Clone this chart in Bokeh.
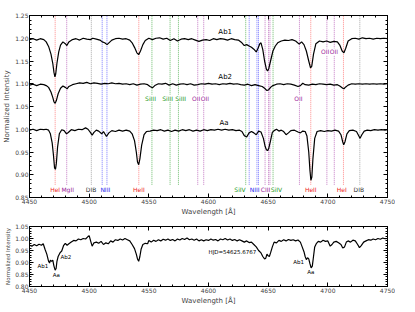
from bokeh.plotting import figure
from bokeh.layouts import column
from bokeh.models import LinearAxis, SingleIntervalTicker, NumeralTickFormatter, Label, Range1d
from bokeh.embed import file_html
from bokeh.resources import INLINE

# ---------------- data ----------------
ab1_wl = [4450, 4453, 4456, 4459, 4462, 4464, 4466, 4468, 4469.5, 4470.5, 4471.3, 4472, 4473, 4474.5, 4476, 4478, 4480, 4481.3, 4483, 4486, 4489, 4492, 4495, 4498, 4501, 4503, 4506, 4509, 4511, 4513, 4515, 4517, 4519, 4522, 4525, 4528, 4531, 4534, 4536, 4538, 4540, 4541.5, 4543, 4545, 4547, 4550, 4553, 4556, 4559, 4562, 4565, 4568, 4571, 4574, 4577, 4580, 4583, 4586, 4589, 4592, 4595, 4598, 4601, 4604, 4607, 4610, 4613, 4616, 4619, 4622, 4625, 4628, 4630, 4632, 4634, 4636, 4638, 4640, 4641.5, 4643, 4644, 4645.5, 4647, 4648.5, 4649.5, 4650.5, 4652, 4654, 4656, 4658, 4661, 4664, 4667, 4670, 4673, 4676, 4678, 4680, 4682, 4684, 4685.5, 4686.5, 4688, 4690, 4693, 4696, 4699, 4702, 4705, 4708, 4710, 4712, 4713.5, 4715, 4717, 4720, 4723, 4726, 4729, 4732, 4735, 4738, 4741, 4744, 4747, 4750]
ab1_fx = [1.197, 1.199, 1.196, 1.199, 1.197, 1.192, 1.182, 1.165, 1.145, 1.125, 1.115, 1.122, 1.145, 1.170, 1.185, 1.192, 1.188, 1.184, 1.192, 1.197, 1.199, 1.196, 1.200, 1.198, 1.197, 1.200, 1.198, 1.196, 1.192, 1.190, 1.186, 1.191, 1.196, 1.199, 1.200, 1.198, 1.199, 1.196, 1.190, 1.180, 1.168, 1.164, 1.172, 1.186, 1.195, 1.200, 1.197, 1.200, 1.201, 1.198, 1.200, 1.195, 1.199, 1.194, 1.198, 1.199, 1.197, 1.199, 1.196, 1.193, 1.196, 1.197, 1.195, 1.199, 1.197, 1.199, 1.198, 1.196, 1.199, 1.197, 1.196, 1.190, 1.184, 1.186, 1.183, 1.180, 1.176, 1.170, 1.178, 1.188, 1.190, 1.175, 1.150, 1.132, 1.128, 1.133, 1.150, 1.172, 1.183, 1.190, 1.194, 1.196, 1.195, 1.197, 1.194, 1.187, 1.192, 1.186, 1.172, 1.150, 1.135, 1.138, 1.165, 1.188, 1.194, 1.192, 1.194, 1.191, 1.193, 1.192, 1.185, 1.172, 1.168, 1.178, 1.194, 1.199, 1.200, 1.198, 1.201, 1.199, 1.200, 1.198, 1.200, 1.199, 1.200, 1.199]

ab2_wl = [4450, 4453, 4456, 4459, 4462, 4464, 4466, 4468, 4469.5, 4470.5, 4471.5, 4472.5, 4474, 4476, 4478, 4480, 4481.5, 4483, 4486, 4489, 4492, 4495, 4498, 4501, 4504, 4507, 4510, 4513, 4516, 4519, 4522, 4525, 4528, 4531, 4534, 4537, 4540, 4543, 4546, 4549, 4551, 4553, 4555, 4558, 4561, 4564, 4567, 4570, 4573, 4576, 4579, 4582, 4585, 4588, 4591, 4594, 4597, 4600, 4603, 4606, 4609, 4612, 4615, 4618, 4621, 4624, 4627, 4630, 4633, 4636, 4639, 4642, 4645, 4647, 4649, 4650.5, 4652, 4654, 4657, 4660, 4663, 4666, 4669, 4672, 4675, 4677, 4679, 4681, 4684, 4687, 4690, 4693, 4696, 4699, 4702, 4705, 4708, 4710, 4712, 4713.5, 4715, 4717, 4720, 4723, 4726, 4729, 4732, 4735, 4738, 4741, 4744, 4747, 4750]
ab2_fx = [1.097, 1.099, 1.096, 1.099, 1.098, 1.096, 1.092, 1.082, 1.070, 1.060, 1.057, 1.063, 1.078, 1.090, 1.095, 1.092, 1.089, 1.094, 1.098, 1.100, 1.102, 1.101, 1.103, 1.100, 1.102, 1.101, 1.099, 1.101, 1.100, 1.102, 1.100, 1.101, 1.099, 1.100, 1.098, 1.100, 1.097, 1.099, 1.100, 1.098, 1.094, 1.091, 1.096, 1.100, 1.099, 1.101, 1.097, 1.100, 1.097, 1.099, 1.100, 1.098, 1.100, 1.097, 1.098, 1.100, 1.099, 1.101, 1.099, 1.100, 1.098, 1.100, 1.099, 1.101, 1.099, 1.100, 1.098, 1.097, 1.099, 1.096, 1.098, 1.096, 1.094, 1.090, 1.085, 1.087, 1.092, 1.096, 1.099, 1.100, 1.098, 1.100, 1.099, 1.097, 1.094, 1.096, 1.101, 1.098, 1.097, 1.099, 1.098, 1.100, 1.099, 1.098, 1.099, 1.097, 1.098, 1.095, 1.091, 1.089, 1.093, 1.097, 1.100, 1.099, 1.100, 1.099, 1.100, 1.099, 1.100, 1.099, 1.100, 1.099, 1.100]

aa_wl = [4450, 4453, 4456, 4459, 4462, 4464, 4466, 4467.5, 4469, 4470, 4471, 4471.8, 4472.5, 4473.5, 4475, 4477, 4479, 4481, 4482.5, 4485, 4488, 4491, 4494, 4497, 4499, 4501, 4502.5, 4504, 4506, 4508, 4510.5, 4512, 4514.5, 4516.5, 4519, 4522, 4525, 4528, 4531, 4534, 4536, 4538, 4539.5, 4540.5, 4541.5, 4542.5, 4544, 4546, 4548, 4551, 4554, 4557, 4560, 4563, 4566, 4569, 4572, 4575, 4578, 4581, 4584, 4587, 4590, 4593, 4596, 4599, 4602, 4605, 4608, 4611, 4614, 4617, 4620, 4623, 4626, 4628, 4630, 4632, 4634, 4636, 4638, 4640, 4642, 4644, 4646, 4647.5, 4648.5, 4649.5, 4650.5, 4652, 4653.5, 4655, 4657, 4659, 4661, 4663, 4665, 4667, 4669, 4672, 4675, 4677, 4679, 4681, 4682.5, 4684, 4685, 4685.8, 4686.6, 4687.5, 4689, 4691, 4694, 4697, 4700, 4703, 4706, 4709, 4711, 4712.5, 4713.3, 4714.3, 4716, 4718, 4721, 4724, 4726, 4727, 4728.5, 4730.5, 4733, 4736, 4739, 4742, 4745, 4748, 4750]
aa_fx = [0.998, 1.000, 0.997, 1.000, 0.999, 1.000, 0.998, 0.990, 0.970, 0.945, 0.915, 0.912, 0.925, 0.960, 0.990, 0.999, 0.997, 0.990, 0.993, 0.999, 0.997, 1.000, 0.999, 1.003, 1.000, 0.993, 0.987, 0.993, 0.998, 0.996, 0.990, 0.995, 0.984, 0.992, 0.997, 0.995, 0.998, 0.996, 0.998, 0.996, 0.990, 0.975, 0.950, 0.928, 0.922, 0.935, 0.965, 0.988, 0.995, 0.996, 0.998, 0.997, 0.999, 0.996, 0.998, 0.995, 0.998, 0.996, 0.999, 0.997, 0.999, 0.996, 0.998, 0.996, 0.999, 0.997, 0.999, 0.998, 1.000, 0.998, 1.000, 0.998, 0.999, 0.997, 0.998, 0.995, 0.986, 0.983, 0.992, 0.995, 0.992, 0.988, 0.996, 0.994, 0.980, 0.962, 0.955, 0.953, 0.958, 0.975, 0.993, 0.997, 1.000, 0.996, 0.998, 0.995, 0.988, 0.992, 0.997, 0.998, 0.994, 0.992, 0.996, 0.995, 0.985, 0.950, 0.910, 0.888, 0.895, 0.935, 0.980, 0.995, 0.997, 0.995, 0.997, 0.996, 0.998, 0.996, 0.988, 0.972, 0.966, 0.972, 0.990, 0.997, 0.998, 0.995, 0.985, 0.980, 0.988, 0.996, 0.998, 0.997, 0.999, 0.998, 0.999, 0.998, 0.999]

obs_wl = [4450, 4452, 4454, 4456, 4458, 4460, 4461.5, 4463, 4464.5, 4466, 4466.8, 4467.5, 4468.5, 4469.5, 4470.5, 4471.5, 4472.3, 4473, 4474, 4475.5, 4477, 4478.5, 4480, 4481.5, 4483, 4485, 4487, 4489, 4491, 4493, 4495, 4497, 4499, 4500, 4501.5, 4502.5, 4504, 4506, 4508, 4510, 4512, 4514, 4516, 4518, 4520, 4522, 4524, 4526, 4528, 4530, 4532, 4534, 4536, 4538, 4539.5, 4540.5, 4541.5, 4542.5, 4543.5, 4545, 4547, 4549, 4550, 4552, 4554, 4556, 4558, 4560, 4562, 4564, 4566, 4568, 4570, 4572, 4574, 4576, 4578, 4580, 4582, 4584, 4586, 4588, 4590, 4592, 4594, 4596, 4598, 4600, 4602, 4604, 4606, 4608, 4610, 4612, 4614, 4616, 4618, 4620, 4622, 4624, 4626, 4628, 4630, 4632, 4634, 4636, 4638, 4640, 4642, 4644, 4645.5, 4647, 4648, 4649, 4650, 4651, 4652, 4653.5, 4655, 4657, 4659, 4661, 4663, 4665, 4667, 4669, 4671, 4673, 4675, 4677, 4678.5, 4680, 4681, 4682, 4683, 4684, 4685, 4686, 4687, 4688, 4689, 4690.5, 4692, 4694, 4696, 4698, 4700, 4702, 4703.5, 4705, 4707, 4709, 4711, 4712.5, 4714, 4715.5, 4717, 4719, 4721, 4723, 4725, 4726.5, 4728, 4730, 4732, 4734, 4736, 4738, 4740, 4742, 4744, 4746, 4748, 4750]
obs_fx = [0.972, 0.968, 0.975, 0.970, 0.976, 0.972, 0.978, 0.955, 0.935, 0.905, 0.898, 0.910, 0.905, 0.910, 0.885, 0.868, 0.875, 0.905, 0.925, 0.940, 0.948, 0.970, 0.980, 0.972, 0.978, 0.985, 0.992, 0.990, 0.998, 0.995, 1.000, 0.998, 1.008, 1.012, 0.985, 0.968, 0.982, 0.985, 0.980, 0.988, 0.975, 0.982, 0.978, 0.990, 0.985, 0.995, 0.992, 0.998, 0.994, 1.000, 0.995, 0.990, 0.975, 0.958, 0.935, 0.915, 0.905, 0.925, 0.955, 0.975, 0.980, 0.978, 0.992, 0.985, 0.993, 0.988, 0.995, 0.990, 0.997, 0.993, 0.998, 0.992, 0.996, 0.990, 0.998, 0.994, 1.000, 0.996, 1.002, 0.995, 0.998, 0.993, 0.998, 0.990, 0.995, 0.990, 0.995, 0.992, 0.998, 0.993, 0.996, 0.990, 0.998, 0.995, 1.000, 0.994, 0.998, 0.992, 0.996, 0.990, 0.995, 0.990, 0.985, 0.990, 0.983, 0.985, 0.975, 0.965, 0.950, 0.940, 0.925, 0.915, 0.918, 0.935, 0.928, 0.925, 0.940, 0.965, 0.985, 0.982, 0.992, 0.988, 0.995, 0.990, 0.996, 0.992, 0.995, 0.990, 0.994, 0.985, 0.965, 0.945, 0.925, 0.912, 0.920, 0.915, 0.895, 0.878, 0.885, 0.925, 0.965, 0.980, 0.988, 0.985, 0.993, 0.988, 0.990, 0.968, 0.975, 0.985, 0.988, 0.982, 0.975, 0.960, 0.965, 0.985, 0.990, 0.985, 0.993, 0.990, 0.975, 0.962, 0.970, 0.985, 0.990, 0.995, 0.993, 0.998, 0.995, 1.000, 0.997, 1.002, 0.999, 1.000]

# spectral line identifications
line_wl = [4471.5, 4481.2, 4501.8, 4510.9, 4514.9, 4541.6, 4552.6, 4567.8, 4574.8, 4591.0, 4596.0,
           4631.2, 4634.1, 4640.6, 4641.9, 4647.4, 4650.3, 4651.5, 4654.1, 4676.2, 4685.7,
           4699.2, 4705.4, 4713.1, 4726.8]
line_kind = ["He", "Mg", "DIB", "N", "N", "He", "Si", "Si", "Si", "O", "O",
             "Si", "N", "N", "N", "O", "O", "O", "Si", "O", "He",
             "O", "O", "He", "DIB"]

lab_text = ["HeI", "MgII", "DIB", "NIII", "HeII", "SiIV", "NIII", "CIII", "SiIV", "HeII", "HeI", "DIB",
            "SiIII", "SiIII", "SiIII", "OII", "OII", "OII", "OII", "OII"]
lab_wl = [4471.5, 4482.0, 4501.6, 4513.5, 4541.6, 4626.4, 4638.7, 4647.8, 4656.9, 4685.7, 4711.7, 4726.0,
          4551.4, 4565.8, 4576.6, 4589.7, 4597.0, 4675.4, 4697.7, 4705.0]
lab_y = [0.867, 0.867, 0.867, 0.867, 0.867, 0.867, 0.867, 0.867, 0.867, 0.867, 0.867, 0.867,
         1.068, 1.068, 1.068, 1.068, 1.068, 1.068, 1.170, 1.170]
lab_kind = ["He", "Mg", "DIB", "N", "He", "Si", "N", "O", "Si", "He", "He", "DIB",
            "Si", "Si", "Si", "O", "O", "O", "O", "O"]

comp_text = ["Ab1", "Ab2", "Aa"]
comp_wl = [4614, 4614, 4613]
comp_y = [1.213, 1.114, 1.014]

obs_lab_text = ["Ab1", "Aa", "Ab2", "HJD=54625.6767", "Ab1", "Aa"]
obs_lab_wl = [4465.7, 4472.5, 4476.0, 4600.0, 4680.0, 4685.7]
obs_lab_y = [0.885, 0.848, 0.923, 0.944, 0.904, 0.861]
obs_lab_align = ["right", "center", "left", "left", "right", "center"]

# ---------------- styling ----------------
FONT = "DejaVu Sans"
line_col = {"He": "#ff8a8a", "Mg": "#c47ac4", "DIB": "#a8a8a8", "N": "#7a7aff", "Si": "#6cbc6c", "O": "#c47ac4"}
text_col = {"He": "#ee2222", "Mg": "#992299", "DIB": "#333333", "N": "#2222ee", "Si": "#229922", "O": "#992299"}


def add_frame_axes(p, yint):
    for loc in ("above", "right"):
        if loc == "above":
            ax = LinearAxis(ticker=SingleIntervalTicker(interval=50, num_minor_ticks=5))
        else:
            ax = LinearAxis(ticker=SingleIntervalTicker(interval=yint, num_minor_ticks=5))
        ax.major_label_text_color = None
        ax.major_label_text_font_size = "1px"
        ax.major_label_standoff = 0
        ax.major_tick_in = 4
        ax.major_tick_out = 0
        ax.minor_tick_in = 2
        ax.minor_tick_out = 0
        ax.axis_line_color = "black"
        p.add_layout(ax, loc)


def style(p, yint, ylab_size):
    p.xgrid.visible = False
    p.ygrid.visible = False
    p.outline_line_color = "black"
    p.xaxis.ticker = SingleIntervalTicker(interval=50, num_minor_ticks=5)
    p.yaxis.ticker = SingleIntervalTicker(interval=yint, num_minor_ticks=5)
    p.yaxis.formatter = NumeralTickFormatter(format="0.00")
    for ax in (p.xaxis[0], p.yaxis[0]):
        ax.major_tick_in = 4
        ax.major_tick_out = 0
        ax.minor_tick_in = 2
        ax.minor_tick_out = 0
        ax.major_label_text_font = FONT
        ax.major_label_text_font_size = "6px"
        ax.major_label_standoff = 1
        ax.axis_label_text_font = FONT
        ax.axis_label_text_font_style = "normal"
        ax.axis_label_standoff = 1
    p.xaxis.axis_label = "Wavelength [Å]"
    p.xaxis.axis_label_text_font_size = "7px"
    p.yaxis.axis_label = "Normalized Intensity"
    p.yaxis.axis_label_text_font_size = ylab_size
    add_frame_axes(p, yint)


# ---------------- top panel ----------------
p1 = figure(width=395, height=218, x_range=Range1d(4450, 4750), y_range=Range1d(0.85, 1.25),
            output_backend="svg", toolbar_location=None,
            min_border_left=23, min_border_right=8, min_border_top=15, min_border_bottom=18)
style(p1, 0.05, "7px")

p1.segment(x0=line_wl, x1=line_wl, y0=0.878, y1=1.25,
           line_color=[line_col[k] for k in line_kind], line_dash="1 1", line_width=1)

for wl, fx in ((ab1_wl, ab1_fx), (ab2_wl, ab2_fx), (aa_wl, aa_fx)):
    p1.line(wl, fx, line_color="black", line_width=1.2)

for t, x, y, k in zip(lab_text, lab_wl, lab_y, lab_kind):
    p1.add_layout(Label(x=x, y=y, text=t, text_align="center", text_baseline="middle",
                        text_font=FONT, text_font_size="6px", text_color=text_col[k],
                        background_fill_color="white"))

for t, x, y in zip(comp_text, comp_wl, comp_y):
    p1.add_layout(Label(x=x, y=y, text=t, text_align="center", text_baseline="middle",
                        text_font=FONT, text_font_size="7px", text_color="black"))

# ---------------- bottom panel ----------------
p2 = figure(width=395, height=89, x_range=Range1d(4450, 4750), y_range=Range1d(0.80, 1.05),
            output_backend="svg", toolbar_location=None,
            min_border_left=23, min_border_right=8, min_border_top=8, min_border_bottom=18)
style(p2, 0.05, "5.5px")

p2.line(obs_wl, obs_fx, line_color="black", line_width=1.2)

for t, x, y, a in zip(obs_lab_text, obs_lab_wl, obs_lab_y, obs_lab_align):
    p2.add_layout(Label(x=x, y=y, text=t, text_align=a, text_baseline="middle",
                        text_font=FONT, text_font_size="5.5px", text_color="black"))

layout = column(p1, p2, spacing=0)
open("out.html", "w").write(file_html(layout, INLINE))
